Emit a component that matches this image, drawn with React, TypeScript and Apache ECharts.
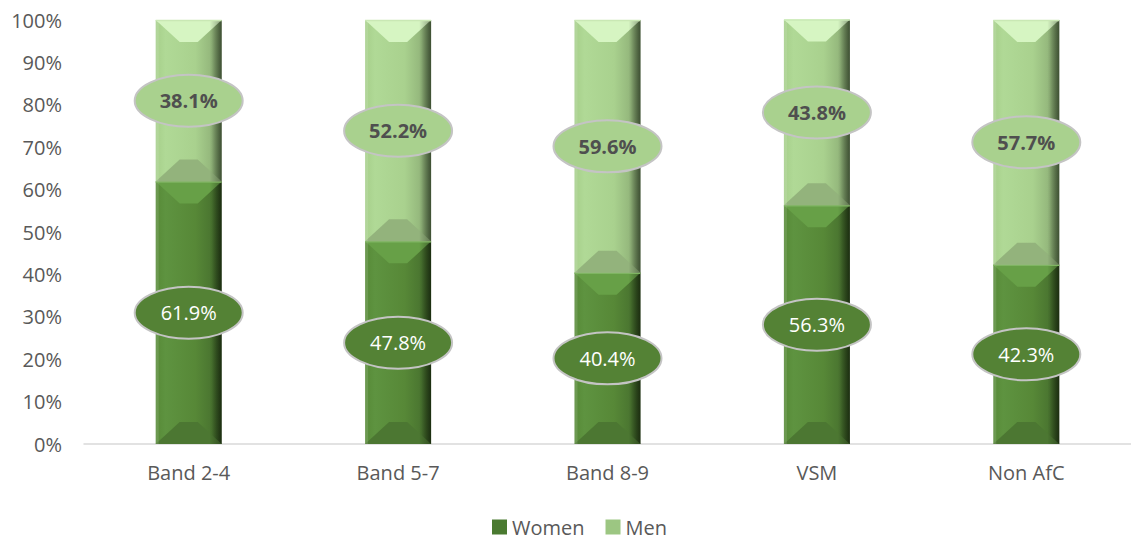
import React, { useEffect, useRef } from "react";
import * as echarts from "echarts";

const categories = ["Band 2-4", "Band 5-7", "Band 8-9", "VSM", "Non AfC"];
const women = [61.9, 47.8, 40.4, 56.3, 42.3];
const men = [38.1, 52.2, 59.6, 43.8, 57.7];
const yTicks = [0, 10, 20, 30, 40, 50, 60, 70, 80, 90, 100];

const FONT = "'Open Sans', sans-serif";
const TEXT = "#595959";
const BAR_W = 66;

const womenPal = {
  body: new echarts.graphic.LinearGradient(0, 0, 1, 0, [
    { offset: 0, color: "#578a37" },
    { offset: 0.15, color: "#5e9340" },
    { offset: 0.6, color: "#578837" },
    { offset: 0.85, color: "#4a7530" },
    { offset: 1, color: "#2a4519" },
  ]),
  top: "#67a047",
  bottom: "#4c7732",
  line: "#7fb562",
};
const menPal = {
  body: new echarts.graphic.LinearGradient(0, 0, 1, 0, [
    { offset: 0, color: "#a6cf8a" },
    { offset: 0.15, color: "#b0d996" },
    { offset: 0.6, color: "#a9d18e" },
    { offset: 0.85, color: "#93b67b" },
    { offset: 1, color: "#5f7a4e" },
  ]),
  top: "#d6f5c2",
  bottom: "#93b37c",
  line: "#c9e8b4",
};

function segments(vals: number[], base: number[]) {
  return vals.map((v, i) => [i, base[i], base[i] + v, v]);
}

const womenSeg = segments(women, women.map(() => 0));
const menSeg = segments(men, women);

function bevelRenderer(pal: any) {
  return (params: any, api: any) => {
    const cat = api.value(0);
    const p0 = api.coord([cat, api.value(1)]);
    const p1 = api.coord([cat, api.value(2)]);
    const xl = p0[0] - BAR_W / 2;
    const xr = p0[0] + BAR_W / 2;
    const yb = p0[1];
    const yt = p1[1];
    const h = yb - yt;
    const d = Math.min(22, h / 2);
    const ins = 24;
    return {
      type: "group",
      children: [
        {
          type: "polygon",
          shape: { points: [[xl, yt], [xr, yt], [xr - ins, yt + d], [xl + ins, yt + d]] },
          style: { fill: pal.top },
        },
        {
          type: "polygon",
          shape: { points: [[xl, yb], [xr, yb], [xr - ins, yb - d], [xl + ins, yb - d]] },
          style: { fill: pal.bottom },
        },
        {
          type: "rect",
          shape: { x: xr - 12, y: yt, width: 12, height: h },
          style: {
            fill: new echarts.graphic.LinearGradient(0, 0, 1, 0, [
              { offset: 0, color: "rgba(0,0,0,0)" },
              { offset: 1, color: "rgba(0,0,0,0.35)" },
            ]),
          },
        },
        {
          type: "rect",
          shape: { x: xl, y: yt, width: 3, height: h },
          style: { fill: "rgba(255,255,255,0.12)" },
        },
        {
          type: "line",
          shape: { x1: xl, y1: yt + 0.5, x2: xr, y2: yt + 0.5 },
          style: { stroke: pal.line, lineWidth: 1.5 },
        },
      ],
    };
  };
}

function labelRenderer(fill: string, color: string, weight: string) {
  return (params: any, api: any) => {
    const cat = api.value(0);
    const mid = (api.value(1) + api.value(2)) / 2;
    const c = api.coord([cat, mid]);
    return {
      type: "group",
      children: [
        {
          type: "ellipse",
          shape: { cx: c[0], cy: c[1], rx: 54, ry: 26 },
          style: { fill, stroke: "#c4c4c4", lineWidth: 2 },
        },
        {
          type: "text",
          x: c[0],
          y: c[1],
          style: {
            text: api.value(3).toFixed(1) + "%",
            fill: color,
            fontSize: 20,
            fontWeight: weight,
            fontFamily: FONT,
            align: "center",
            verticalAlign: "middle",
          },
        },
      ],
    };
  };
}

export default function App() {
  const ref = useRef<HTMLDivElement>(null);
  useEffect(() => {
    if (!ref.current) return;
    const chart = echarts.init(ref.current, undefined, { renderer: "svg" });
    chart.setOption({
      animation: false,
      backgroundColor: "#ffffff",
      grid: { left: 84, right: -4, top: 20, bottom: 95, containLabel: false },
      legend: {
        data: [
          { name: "Women", itemStyle: { color: "#4a7a30" } },
          { name: "Men", itemStyle: { color: "#9cc682" } },
        ],
        icon: "rect",
        top: 514,
        left: 487,
        padding: [2, 5, 0, 5],
        itemWidth: 15,
        itemHeight: 15,
        itemGap: 21,
        textStyle: { fontSize: 20, lineHeight: 22, color: TEXT, fontFamily: FONT },
      },
      xAxis: {
        type: "category",
        data: categories,
        axisLine: { lineStyle: { color: "#d9d9d9", width: 1.5 } },
        axisTick: { show: false },
        axisLabel: { fontSize: 20, color: TEXT, fontFamily: FONT, margin: 18 },
      },
      yAxis: {
        type: "value",
        min: yTicks[0],
        max: yTicks[yTicks.length - 1],
        interval: yTicks[1] - yTicks[0],
        axisLine: { show: false },
        axisTick: { show: false },
        splitLine: { show: false },
        axisLabel: { formatter: "{value}%", fontSize: 20, color: TEXT, fontFamily: FONT, margin: 22 },
      },
      series: [
        {
          name: "Women",
          type: "bar",
          stack: "total",
          data: women,
          barWidth: BAR_W,
          itemStyle: { color: womenPal.body },
        },
        {
          name: "Men",
          type: "bar",
          stack: "total",
          data: men,
          barWidth: BAR_W,
          itemStyle: { color: menPal.body },
        },
        {
          type: "custom",
          renderItem: bevelRenderer(womenPal),
          data: womenSeg,
          encode: { x: 0, y: [1, 2] },
          z: 3,
          silent: true,
        },
        {
          type: "custom",
          renderItem: bevelRenderer(menPal),
          data: menSeg,
          encode: { x: 0, y: [1, 2] },
          z: 3,
          silent: true,
        },
        {
          type: "custom",
          renderItem: labelRenderer("#548235", "#ffffff", "normal"),
          data: womenSeg,
          encode: { x: 0, y: [1, 2] },
          z: 5,
          silent: true,
        },
        {
          type: "custom",
          renderItem: labelRenderer("#a9d18e", "#4f4f4f", "bold"),
          data: menSeg,
          encode: { x: 0, y: [1, 2] },
          z: 5,
          silent: true,
        },
      ],
    });
    return () => chart.dispose();
  }, []);
  return (
    <div
      ref={ref}
      style={{ position: "fixed", left: 0, top: 0, width: 1131, height: 539 }}
    />
  );
}
